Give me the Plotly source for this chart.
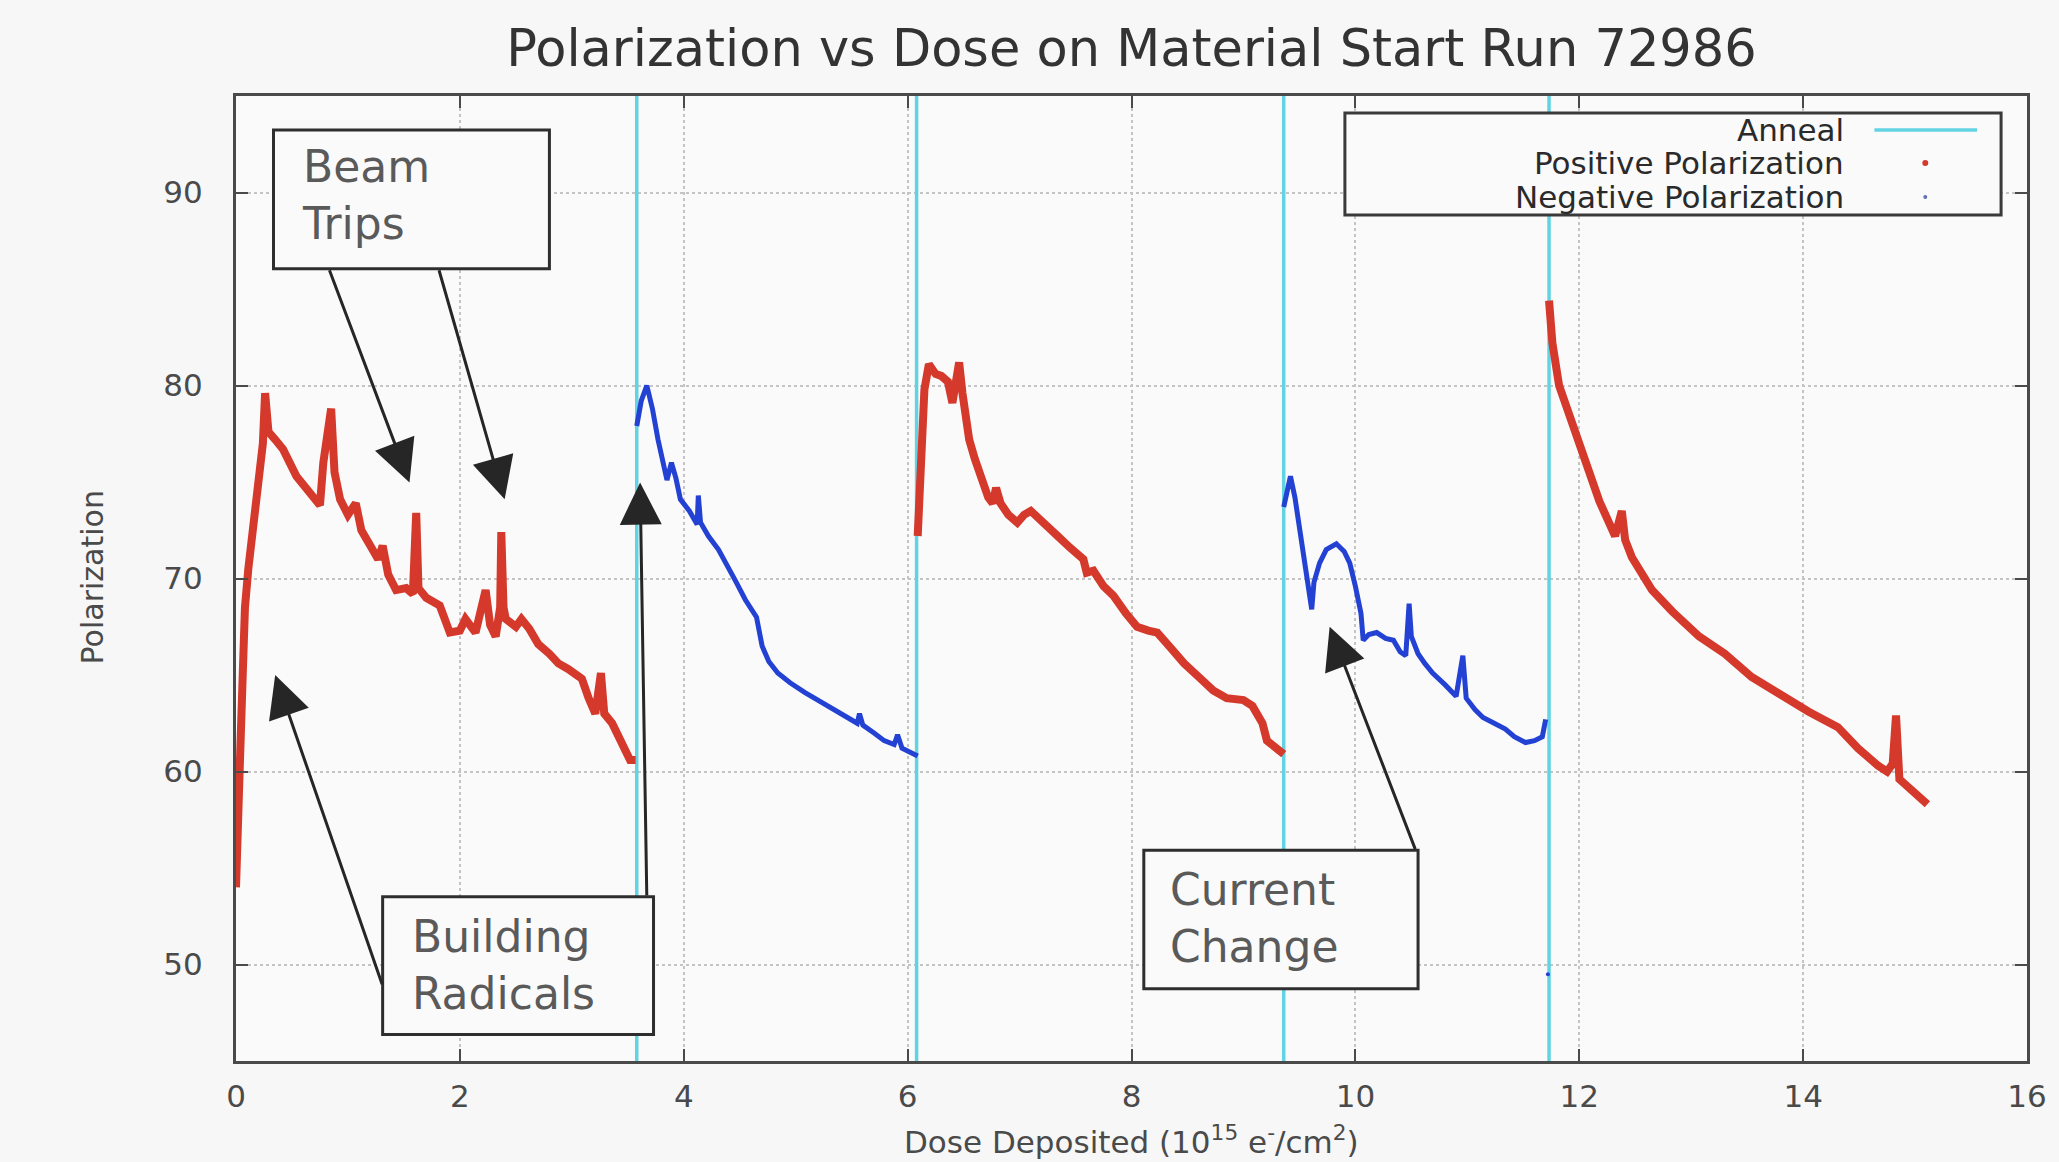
import plotly.graph_objects as go

# ---- data: polarization vs dose, runs separated by anneals ----
run1_dose = [0.0, 0.01, 0.035, 0.06, 0.08, 0.11, 0.17, 0.22, 0.24, 0.26, 0.29, 0.35, 0.42, 0.54, 0.65,
             0.75, 0.78, 0.82, 0.85, 0.88, 0.93, 1.0, 1.07, 1.12, 1.2, 1.27, 1.31, 1.36, 1.43, 1.52,
             1.58, 1.61, 1.63, 1.7, 1.82, 1.91, 2.0, 2.05, 2.14, 2.23, 2.27, 2.32, 2.36, 2.37, 2.39,
             2.41, 2.5, 2.55, 2.62, 2.7, 2.8, 2.88, 2.97, 3.09, 3.15, 3.21, 3.26, 3.29, 3.36, 3.45,
             3.52, 3.57]
run1_pol = [54.0, 57.0, 60.5, 65.0, 68.5, 70.5, 73.7, 75.8, 77.0, 79.6, 77.6, 77.2, 76.7, 75.3, 74.5,
            73.8, 76.0, 78.0, 78.8, 75.5, 74.1, 73.3, 73.9, 72.5, 71.8, 71.0, 71.7, 70.2, 69.4, 69.5,
            69.2, 73.4, 69.5, 69.0, 68.6, 67.2, 67.3, 67.9, 67.2, 69.4, 67.6, 67.0, 68.5, 72.4, 68.5,
            67.9, 67.5, 67.9, 67.4, 66.6, 66.1, 65.6, 65.3, 64.8, 63.8, 63.0, 65.1, 63.0, 62.5, 61.3,
            60.6, 60.6]

run2_dose = [3.58, 3.62, 3.67, 3.72, 3.77, 3.81, 3.85, 3.89, 3.93, 3.97, 4.05, 4.12, 4.13, 4.15, 4.22,
             4.31, 4.38, 4.46, 4.55, 4.61, 4.65, 4.70, 4.76, 4.84, 4.95, 5.08, 5.2, 5.35, 5.45, 5.55,
             5.57, 5.6, 5.7, 5.79, 5.88, 5.91, 5.95, 6.02, 6.09]
run2_pol = [77.9, 79.2, 80.0, 78.8, 77.2, 76.2, 75.1, 76.0, 75.2, 74.1, 73.5, 72.8, 74.3, 72.9, 72.2,
            71.5, 70.8, 69.9, 68.9, 68.4, 68.0, 66.5, 65.7, 65.1, 64.6, 64.1, 63.7, 63.2, 62.8, 62.5,
            63.0, 62.4, 62.0, 61.6, 61.4, 61.9, 61.2, 61.0, 60.8]

run3_dose = [6.09, 6.10, 6.11, 6.13, 6.15, 6.19, 6.25, 6.30, 6.36, 6.40, 6.43, 6.46, 6.49, 6.51, 6.55,
             6.60, 6.66, 6.72, 6.76, 6.79, 6.83, 6.90, 6.98, 7.04, 7.10, 7.20, 7.34, 7.45, 7.57, 7.60,
             7.66, 7.75, 7.84, 7.95, 8.05, 8.15, 8.23, 8.35, 8.47, 8.6, 8.73, 8.85, 9.0, 9.08, 9.12,
             9.17, 9.21, 9.28, 9.36]
run3_pol = [72.2, 73.5, 75.5, 77.8, 79.8, 81.1, 80.6, 80.5, 80.2, 79.1, 80.0, 81.2, 79.6, 78.6, 77.2,
            76.2, 75.1, 74.2, 73.9, 74.7, 73.9, 73.3, 72.9, 73.3, 73.5, 72.9, 72.2, 71.6, 71.0, 70.3,
            70.4, 69.6, 69.1, 68.2, 67.5, 67.3, 67.2, 66.4, 65.6, 64.9, 64.2, 63.8, 63.7, 63.4, 63.0,
            62.5, 61.6, 61.3, 60.9]

run4_dose = [9.36, 9.42, 9.46, 9.50, 9.55, 9.61, 9.63, 9.68, 9.74, 9.83, 9.90, 9.95, 10.0, 10.05, 10.07,
             10.12, 10.19, 10.27, 10.34, 10.40, 10.45, 10.48, 10.50, 10.56, 10.62, 10.69, 10.80, 10.90,
             10.96, 10.99, 11.07, 11.14, 11.24, 11.34, 11.42, 11.52, 11.60, 11.67, 11.70]
run4_pol = [73.7, 75.3, 74.2, 72.7, 70.5, 68.4, 69.8, 70.8, 71.5, 71.8, 71.4, 70.8, 69.6, 68.2, 66.8,
            67.1, 67.2, 66.9, 66.8, 66.2, 66.0, 68.7, 67.0, 66.1, 65.6, 65.1, 64.5, 63.9,
            66.0, 63.8, 63.2, 62.8, 62.5, 62.2, 61.8, 61.5, 61.6, 61.8, 62.7]

run5_dose = [11.73, 11.76, 11.82, 11.91, 12.03, 12.18, 12.32, 12.38, 12.41, 12.47, 12.65, 12.83, 13.07,
             13.30, 13.54, 13.78, 14.05, 14.31, 14.49, 14.67, 14.75, 14.80, 14.83, 14.86, 15.0, 15.11]
run5_pol = [84.4, 82.2, 80.0, 78.5, 76.3, 74.0, 72.2, 73.5, 72.0, 71.1, 69.4, 68.3, 67.0,
            66.1, 64.9, 64.0, 63.1, 62.3, 61.2, 60.3, 60.0, 60.4, 62.9, 59.6, 58.8, 58.3]

stray_dose = [11.72]
stray_pol = [49.5]

anneal_dose = [3.58, 6.08, 9.36, 11.73]

x_ticks = [0, 2, 4, 6, 8, 10, 12, 14, 16]
y_ticks = [50, 60, 70, 80, 90]

RED = "#d5392b"
BLUE = "#2341d2"
CYAN = "#62d3e2"
FONT = "DejaVu Sans, Verdana, sans-serif"

fig = go.Figure()

# anneal markers as vertical lines spanning the plot
for xa in anneal_dose:
    fig.add_trace(go.Scatter(x=[xa, xa], y=[45, 95], mode="lines",
                             line=dict(color=CYAN, width=3.5), showlegend=False,
                             hoverinfo="skip"))

for xs, ys, col, w in [(run1_dose, run1_pol, RED, 8), (run2_dose, run2_pol, BLUE, 5),
                       (run3_dose, run3_pol, RED, 8), (run4_dose, run4_pol, BLUE, 5),
                       (run5_dose, run5_pol, RED, 8)]:
    fig.add_trace(go.Scatter(x=xs, y=ys, mode="lines", line=dict(color=col, width=w),
                             showlegend=False))

fig.add_trace(go.Scatter(x=stray_dose, y=stray_pol, mode="markers",
                         marker=dict(color=BLUE, size=4), showlegend=False))

# plot-area pixel helpers (for key / labels placed outside data space)
L, R, T, B = 236, 27, 96, 101
W, H = 2059, 1162
PW, PH = W - L - R, H - T - B


def px(xp):
    return (xp - L) / PW


def py(yp):
    return (H - B - yp) / PH


annotations = []
shapes = []

# text boxes with callout arrows
boxes = [
    ("Beam<br>Trips", 0.335, 2.80, 86.05, 93.24, 0.57, 89.85),
    ("Building<br>Radicals", 1.31, 3.73, 46.37, 53.51, 1.55, 50.0),
    ("Current<br>Change", 8.11, 10.56, 48.74, 55.92, 8.33, 52.4),
]
for text, x0, x1, y0, y1, tx, ty in boxes:
    shapes.append(dict(type="rect", xref="x", yref="y", x0=x0, x1=x1, y0=y0, y1=y1,
                       line=dict(color="#2e2e2e", width=3), fillcolor="#fafafa", layer="above"))
    annotations.append(dict(x=tx, y=ty, xref="x", yref="y", text=text, showarrow=False,
                            xanchor="left", yanchor="middle", align="left",
                            font=dict(family=FONT, size=44, color="#5a5a5a")))

arrows = [
    (0.83, 86.05, 1.55, 74.97),
    (1.81, 86.05, 2.40, 74.1),
    (1.31, 48.9, 0.35, 65.0),
    (3.67, 53.5, 3.61, 74.97),
    (10.54, 55.9, 9.77, 67.5),
]
for tx, ty, hx, hy in arrows:
    annotations.append(dict(x=hx, y=hy, ax=tx, ay=ty, xref="x", yref="y", axref="x", ayref="y",
                            text="", showarrow=True, arrowhead=2, arrowsize=2.8, arrowwidth=3,
                            arrowcolor="#262626"))

# key box
shapes.append(dict(type="rect", xref="paper", yref="paper", x0=px(1348), x1=px(2006),
                   y0=py(215), y1=py(113), line=dict(color="#3a3a3a", width=3),
                   fillcolor="#fafafa", layer="above"))
key_rows = [("Anneal", 130), ("Positive Polarization", 163), ("Negative Polarization", 197)]
for label, yp in key_rows:
    annotations.append(dict(x=px(1850), y=py(yp), xref="paper", yref="paper", text=label,
                            showarrow=False, xanchor="right", yanchor="middle",
                            font=dict(family=FONT, size=31, color="#2a2a2a")))
shapes.append(dict(type="line", xref="paper", yref="paper", x0=px(1879), x1=px(1982),
                   y0=py(130), y1=py(130), line=dict(color=CYAN, width=3.5), layer="above"))
shapes.append(dict(type="circle", xref="paper", yref="paper", x0=px(1927), x1=px(1933),
                   y0=py(166), y1=py(160), line=dict(width=0), fillcolor=RED, layer="above"))
shapes.append(dict(type="circle", xref="paper", yref="paper", x0=px(1928), x1=px(1932),
                   y0=py(199), y1=py(195), line=dict(width=0), fillcolor="#6070b0", layer="above"))

# axis titles
annotations.append(dict(x=0.5, y=py(1140), xref="paper", yref="paper",
                        text="Dose Deposited (10<sup>15</sup> e<sup>-</sup>/cm<sup>2</sup>)",
                        showarrow=False, xanchor="center", yanchor="middle",
                        font=dict(family=FONT, size=31, color="#4a4a4a")))
annotations.append(dict(x=px(92), y=py(577), xref="paper", yref="paper", text="Polarization",
                        showarrow=False, textangle=-90, xanchor="center", yanchor="middle",
                        font=dict(family=FONT, size=30, color="#4a4a4a")))

axis_common = dict(showline=True, linecolor="#4a4a4a", linewidth=3, mirror="allticks",
                   ticks="inside", ticklen=12, tickwidth=2, tickcolor="#4a4a4a",
                   showgrid=True, gridcolor="#c4c4c4", gridwidth=1.5, griddash="dot",
                   zeroline=False, tickfont=dict(family=FONT, size=31, color="#4a4a4a"))

fig.update_layout(
    width=W, height=H,
    margin=dict(l=L, r=R, t=T, b=B),
    paper_bgcolor="#f7f7f7", plot_bgcolor="#fafafa",
    title=dict(text="Polarization vs Dose on Material Start Run 72986",
               x=0.5, xref="paper", xanchor="center", y=1 - 48 / H, yref="container",
               yanchor="middle", font=dict(family=FONT, size=51, color="#333333")),
    xaxis=dict(range=[0, 16], tickvals=x_ticks, ticklabelstandoff=6, **axis_common),
    yaxis=dict(range=[45, 95], tickvals=y_ticks, ticklabelstandoff=24, **axis_common),
    annotations=annotations, shapes=shapes, showlegend=False,
)

fig.write_html("out.html")
